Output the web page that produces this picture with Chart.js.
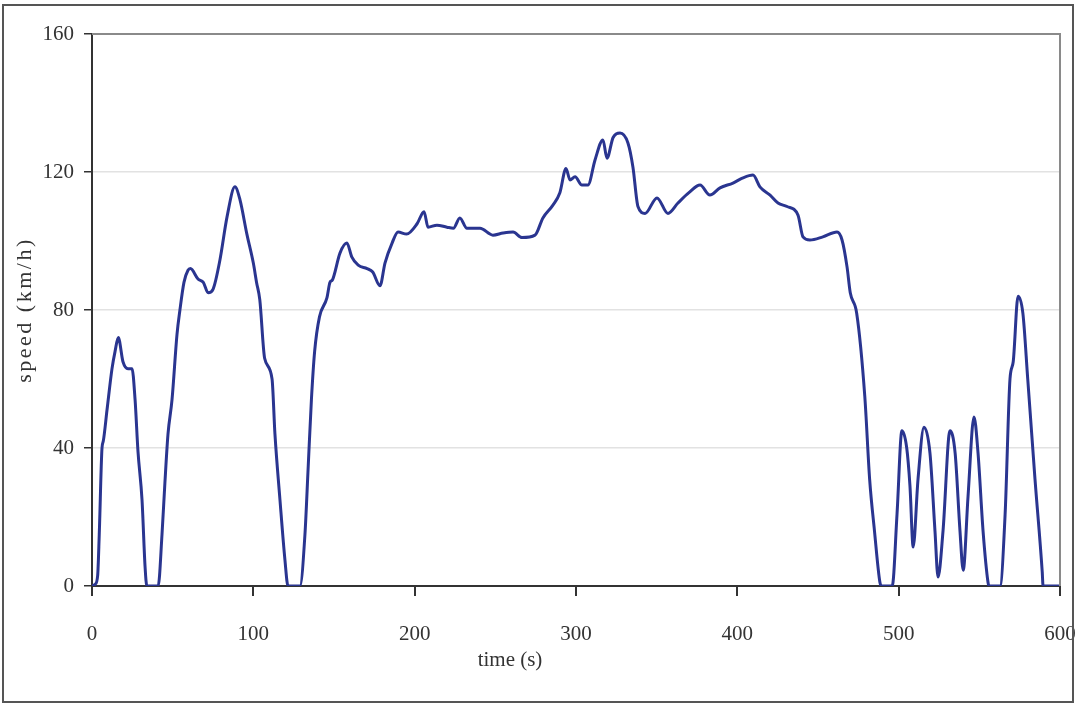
<!DOCTYPE html>
<html>
<head>
<meta charset="utf-8">
<script src="https://cdn.jsdelivr.net/npm/chart.js@4/dist/chart.umd.min.js"></script>
<style>
  html, body { margin: 0; padding: 0; background: #fff; }
  #wrap { width: 1076px; height: 706px; position: relative; }
</style>
</head>
<body>
<div id="wrap"><canvas id="my-chart"></canvas></div>
<script>
// drive cycle: time (s) and speed (km/h)
const times = [
  0, 2, 3.5, 4.5, 6.2, 7, 9.3, 12.4, 14.3, 16.3, 19.2, 22.3, 24.8, 26.7, 28.5, 31, 32.9, 34,
  41, 43.4, 45.2, 47.1, 49.6, 52.7, 54.5, 57, 59.5, 61, 65.7, 69, 72, 75, 79.3, 83.7, 88.6,
  91.7, 96, 100, 102, 104, 107, 111.6, 113.4, 116.5, 119.6, 121.5,
  128.9, 132, 134, 136, 138, 141, 145.6, 147.5, 149, 153.7, 158, 161, 165, 170.5, 174, 178.5,
  181.6, 186, 189.7, 195, 201.5, 205.8, 208.3, 213.8, 220, 224, 228, 232.4, 240.5, 248.5,
  254.8, 261, 266.5, 274.6, 279.5, 285.7, 290, 293.8, 296.3, 299.4, 303.7, 307.4, 311.8,
  316.7, 319.2, 323, 327.3, 332.2, 335.3, 338.4, 342.8, 350.2, 357, 363.2, 370, 376.9, 383,
  389.3, 397.3, 403.5, 409.7, 414, 420.3, 425.2, 430.8, 437.6, 440.7, 445, 453, 461.8, 464.9,
  468, 470, 474, 479, 482, 485, 488.4, 489.5,
  496, 499, 502, 505, 507, 509, 512, 515.7, 519.4, 522.5, 524.4, 527.5, 531.8, 535, 538, 540,
  543, 546.7, 549.2, 552.3, 555.4, 556,
  562.8, 566, 569, 571, 574, 577, 580, 584.5, 589, 589.5, 600
];
const speeds = [
  0, 0.5, 3, 15, 40, 42, 51, 63, 68, 72, 65, 63, 63, 54, 39, 25, 5.5, 0,
  0, 15, 30, 44, 54, 73, 80, 88, 91.5, 92, 89, 88, 85, 86, 94.5, 107, 115.7,
  112, 102, 93.6, 88, 83, 66, 60, 44, 25, 7.5, 0,
  0, 15, 34.5, 54, 68, 78, 83.5, 88, 88.7, 96.5, 99.4, 95.4, 93, 92, 91, 87,
  93.6, 99.4, 102.6, 102, 105, 108.5, 104, 104.6, 104, 103.7, 106.7, 103.7, 103.7, 101.7,
  102.3, 102.6, 101, 101.7, 106.7, 110.4, 114, 121, 117.7, 118.6, 116.2, 116.2, 123.5,
  129.3, 124, 130, 131.3, 128.4, 121.4, 110, 108, 112.5, 108, 111, 114, 116.2, 113.3,
  115.4, 116.8, 118.3, 119.1, 115.7, 113.3, 111, 110, 107.5, 101.2, 100.3, 101.2, 102.6, 100.3,
  92.5, 85, 79, 55, 31, 16, 1, 0,
  0, 21, 45, 40, 29, 11.3, 31, 46, 38.5, 16, 2.6, 16, 45, 38.5, 16, 4.6,
  26, 49, 38.5, 16, 1, 0,
  0, 21, 60, 65, 84, 79, 60, 31, 4, 0, 0
];
const xTicks = [0, 100, 200, 300, 400, 500, 600];
const yTicks = [0, 40, 80, 120, 160];
const xTitle = 'time (s)';
const yTitle = 'speed (km/h)';

const points = times.map((t, i) => ({ x: t, y: speeds[i] }));

const serif = 'Liberation Serif';

// outer frame, grey top/right edges of the plot area, and the two axis titles
const framePlugin = {
  id: 'frame',
  afterDraw(chart) {
    const ctx = chart.ctx;
    const a = chart.chartArea;
    ctx.save();
    ctx.strokeStyle = '#8a8a8a';
    ctx.lineWidth = 2;
    ctx.beginPath();
    ctx.moveTo(a.left, a.top);
    ctx.lineTo(a.right, a.top);
    ctx.lineTo(a.right, a.bottom);
    ctx.stroke();
    ctx.strokeStyle = '#555';
    ctx.strokeRect(3, 5, 1070, 697);

    ctx.fillStyle = '#333';
    ctx.textAlign = 'center';
    ctx.textBaseline = 'middle';
    ctx.font = `21px "${serif}"`;
    ctx.fillText(xTitle, 510, 660);

    ctx.translate(25, 310);
    ctx.rotate(-Math.PI / 2);
    ctx.font = `22px "${serif}"`;
    ctx.letterSpacing = '2.5px';
    ctx.fillText(yTitle, 0, 0);
    ctx.restore();
  }
};

const chart = new Chart(document.getElementById('my-chart'), {
  type: 'line',
  data: {
    datasets: [{
      label: 'speed',
      data: points,
      borderColor: '#2a3590',
      borderWidth: 3,
      pointRadius: 0,
      cubicInterpolationMode: 'monotone',
      fill: false
    }]
  },
  options: {
    responsive: true,
    maintainAspectRatio: false,
    animation: false,
    layout: { padding: { top: 34, right: 16, bottom: 0, left: 0 } },
    plugins: { legend: { display: false }, tooltip: { enabled: false } },
    scales: {
      x: {
        type: 'linear',
        min: 0,
        max: 600,
        afterBuildTicks: scale => { scale.ticks = xTicks.map(v => ({ value: v })); },
        afterFit: scale => {
          scale.height = 120;
          scale.paddingLeft = 0;
          scale.paddingRight = 0;
        },
        grid: { drawOnChartArea: false, tickLength: 10, tickColor: '#333', lineWidth: 2 },
        border: { color: '#333', width: 2 },
        ticks: { color: '#333', padding: 26, font: { family: serif, size: 21 } }
      },
      y: {
        min: 0,
        max: 160,
        afterBuildTicks: scale => { scale.ticks = yTicks.map(v => ({ value: v })); },
        afterFit: scale => { scale.width = 92; },
        grid: { color: '#e2e2e2', lineWidth: 1.5, tickLength: 8, tickColor: '#333' },
        border: { color: '#333', width: 2 },
        ticks: { color: '#333', padding: 10, font: { family: serif, size: 21 } }
      }
    }
  },
  plugins: [framePlugin]
});
</script>
</body>
</html>
